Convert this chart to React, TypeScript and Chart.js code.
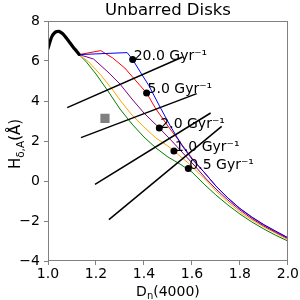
import React, { useEffect, useRef } from "react";
import { Chart, registerables } from "chart.js";
Chart.register(...registerables);

// ---- data ----
const blackX = [1.0, 1.008, 1.016, 1.025, 1.035, 1.045, 1.055, 1.065, 1.078, 1.092, 1.106, 1.12, 1.13];
const blackY = [6.62, 6.95, 7.22, 7.38, 7.47, 7.48, 7.42, 7.32, 7.12, 6.9, 6.68, 6.48, 6.33];

const greenX = [1.13, 1.16, 1.2, 1.25, 1.3, 1.35, 1.4, 1.45, 1.5, 1.55, 1.6, 1.65, 1.7, 1.75, 1.8, 1.85, 1.9, 1.95, 2.0];
const greenY = [6.32, 5.95, 5.35, 4.5, 3.6, 2.85, 2.2, 1.65, 1.2, 0.85, 0.45, -0.15, -0.7, -1.2, -1.65, -2.05, -2.4, -2.72, -3.0];

const orangeX = [1.13, 1.17, 1.22, 1.27, 1.3, 1.35, 1.4, 1.45, 1.5, 1.525, 1.58, 1.65, 1.7, 1.75, 1.8, 1.85, 1.9, 1.95, 2.0];
const orangeY = [6.32, 5.95, 5.3, 4.55, 4.05, 3.3, 2.7, 2.15, 1.75, 1.5, 0.95, 0.15, -0.5, -1.05, -1.55, -1.95, -2.3, -2.62, -2.93];

const purpleX = [1.13, 1.19, 1.25, 1.3, 1.35, 1.4, 1.464, 1.52, 1.57, 1.62, 1.66, 1.7, 1.75, 1.8, 1.85, 1.9, 1.95, 2.0];
const purpleY = [6.32, 6.1, 5.45, 4.85, 4.1, 3.4, 2.65, 1.95, 1.3, 0.65, 0.1, -0.4, -0.95, -1.45, -1.88, -2.25, -2.57, -2.88];

const redX = [1.13, 1.22, 1.27, 1.32, 1.36, 1.411, 1.45, 1.5, 1.55, 1.6, 1.65, 1.7, 1.75, 1.8, 1.85, 1.9, 1.95, 2.0];
const redY = [6.32, 6.52, 6.15, 5.65, 5.1, 4.4, 3.6, 2.75, 1.95, 1.15, 0.45, -0.25, -0.85, -1.38, -1.82, -2.2, -2.53, -2.85];

const blueX = [1.13, 1.33, 1.353, 1.39, 1.42, 1.467, 1.51, 1.56, 1.6, 1.65, 1.7, 1.75, 1.8, 1.85, 1.9, 1.95, 2.0];
const blueY = [6.32, 6.42, 6.07, 5.35, 4.78, 3.7, 2.75, 1.75, 1.1, 0.45, -0.25, -0.85, -1.37, -1.8, -2.18, -2.51, -2.83];

const slopeLines = [
  { x: [1.08, 1.561], y: [3.67, 6.2] },
  { x: [1.1375, 1.62], y: [2.17, 4.37] },
  { x: [1.196, 1.678], y: [-0.165, 3.4] },
  { x: [1.254, 1.724], y: [-1.93, 2.735] },
];

const dotX = [1.353, 1.411, 1.464, 1.525, 1.585];
const dotY = [6.07, 4.4, 2.65, 1.5, 0.62];
const dotLabels = ["20.0 Gyr⁻¹", "5.0 Gyr⁻¹", "2.0 Gyr⁻¹", "1.0 Gyr⁻¹", "0.5 Gyr⁻¹"];

const squareX = [1.2375];
const squareY = [3.13];

const xTicks = [1.0, 1.2, 1.4, 1.6, 1.8, 2.0];
const yTicks = [-4, -2, 0, 2, 4, 6, 8];

const FONT = '"DejaVu Sans", sans-serif';

const pts = (xs: number[], ys: number[]) => xs.map((x, i) => ({ x, y: ys[i] }));

const overlay = {
  id: "overlay",
  afterDatasetsDraw(chart: any) {
    const { ctx, scales } = chart;
    const x = scales.x, y = scales.y;
    ctx.save();
    ctx.font = `14px ${FONT}`;
    ctx.fillStyle = "#000";
    ctx.textAlign = "left";
    ctx.textBaseline = "alphabetic";
    dotLabels.forEach((t, i) => {
      ctx.fillText(t, x.getPixelForValue(dotX[i]) + 1, y.getPixelForValue(dotY[i]));
    });
    ctx.restore();
  },
  afterDraw(chart: any) {
    const { ctx, chartArea: a } = chart;
    ctx.save();
    ctx.strokeStyle = "#808080";
    ctx.lineWidth = 1;
    ctx.strokeRect(Math.round(a.left) + 0.5, Math.round(a.top) + 0.5, Math.round(a.right - a.left) - 1, Math.round(a.bottom - a.top) - 1);
    ctx.fillStyle = "#000";
    // title
    ctx.font = `16.5px ${FONT}`;
    ctx.textAlign = "center";
    ctx.textBaseline = "middle";
    ctx.fillText("Unbarred Disks", (a.left + a.right) / 2, 11);
    // x label: D_n(4000)
    const measure = (ps: any[]) => ps.reduce((s, p) => { ctx.font = p.f; return s + ctx.measureText(p.t).width; }, 0);
    ctx.textBaseline = "alphabetic";
    ctx.textAlign = "left";
    const parts = [
      { t: "D", f: `14px ${FONT}`, dy: 0 },
      { t: "n", f: `10px ${FONT}`, dy: 3 },
      { t: "(4000)", f: `14px ${FONT}`, dy: 0 },
    ];
    let w = measure(parts);
    let cx = (a.left + a.right) / 2 - w / 2;
    const by = 296;
    parts.forEach((p) => { ctx.font = p.f; ctx.fillText(p.t, cx, by + p.dy); cx += ctx.measureText(p.t).width; });
    // y label: H_{δ,A}(Å)
    const yparts = [
      { t: "H", f: `15px ${FONT}`, dy: 0 },
      { t: "δ,A", f: `10.5px ${FONT}`, dy: 3.5 },
      { t: "(Å)", f: `15px ${FONT}`, dy: 0 },
    ];
    w = measure(yparts);
    ctx.translate(20, (a.top + a.bottom) / 2 + 3);
    ctx.rotate(-Math.PI / 2);
    let px = -w / 2;
    yparts.forEach((p) => { ctx.font = p.f; ctx.fillText(p.t, px, p.dy); px += ctx.measureText(p.t).width; });
    ctx.restore();
  },
};

export default function App() {
  const ref = useRef<HTMLCanvasElement>(null);
  useEffect(() => {
    const lineDs = (data: any, color: string, width: number, order: number, extra: any = {}) => ({
      data, borderColor: color, backgroundColor: color, borderWidth: width, pointRadius: 0,
      showLine: true, tension: 0, order, ...extra,
    });
    const datasets: any[] = [
      lineDs(pts(greenX, greenY), "#008000", 1, 10),
      lineDs(pts(orangeX, orangeY), "#ffa500", 1, 9),
      lineDs(pts(purpleX, purpleY), "#800080", 1, 8),
      lineDs(pts(redX, redY), "#ff0000", 1, 7),
      lineDs(pts(blueX, blueY), "#0000ff", 1, 6),
      lineDs(pts(blackX, blackY), "#000", 3.2, 5, { cubicInterpolationMode: "monotone", borderCapStyle: "round" }),
      ...slopeLines.map((l) => lineDs(pts(l.x, l.y), "#000", 1.5, 4)),
      {
        data: pts(squareX, squareY), showLine: false, pointStyle: "rect", pointRadius: 6.5,
        backgroundColor: "#808080", borderColor: "#808080", borderWidth: 0, order: 3,
      },
      {
        data: pts(dotX, dotY), showLine: false, pointStyle: "circle", pointRadius: 3.5,
        backgroundColor: "#000", borderColor: "#000", borderWidth: 0, order: 1,
      },
    ];
    const chart = new Chart(ref.current!, {
      type: "line",
      data: { datasets },
      plugins: [overlay],
      options: {
        animation: false,
        responsive: false,
        events: [],
        layout: { padding: { left: 0, top: 21, right: 12, bottom: 0 } },
        plugins: { legend: { display: false }, tooltip: { enabled: false }, title: { display: false } },
        scales: {
          x: {
            type: "linear", min: 1.0, max: 2.0,
            afterFit: (s: any) => { s.height = 39; },
            afterBuildTicks: (s: any) => { s.ticks = xTicks.map((v) => ({ value: v })); },
            ticks: { font: { family: FONT, size: 14 }, color: "#000", padding: 1, maxRotation: 0, callback: (v: any) => Number(v).toFixed(1) },
            grid: { drawOnChartArea: false, drawTicks: true, tickLength: 4, color: "#808080" },
            border: { display: false },
          },
          y: {
            type: "linear", min: -4, max: 8,
            afterFit: (s: any) => { s.width = 48; },
            afterBuildTicks: (s: any) => { s.ticks = yTicks.map((v) => ({ value: v })); },
            ticks: { font: { family: FONT, size: 14 }, color: "#000", padding: 4, callback: (v: any) => (v < 0 ? "−" + Math.abs(v) : String(v)) },
            grid: { drawOnChartArea: false, drawTicks: true, tickLength: 4, color: "#808080" },
            border: { display: false },
          },
        },
      },
    });
    return () => chart.destroy();
  }, []);
  return (
    <div style={{ position: "fixed", left: 0, top: 0, width: 300, height: 300, background: "#fff" }}>
      <canvas ref={ref} width={300} height={300} />
    </div>
  );
}
